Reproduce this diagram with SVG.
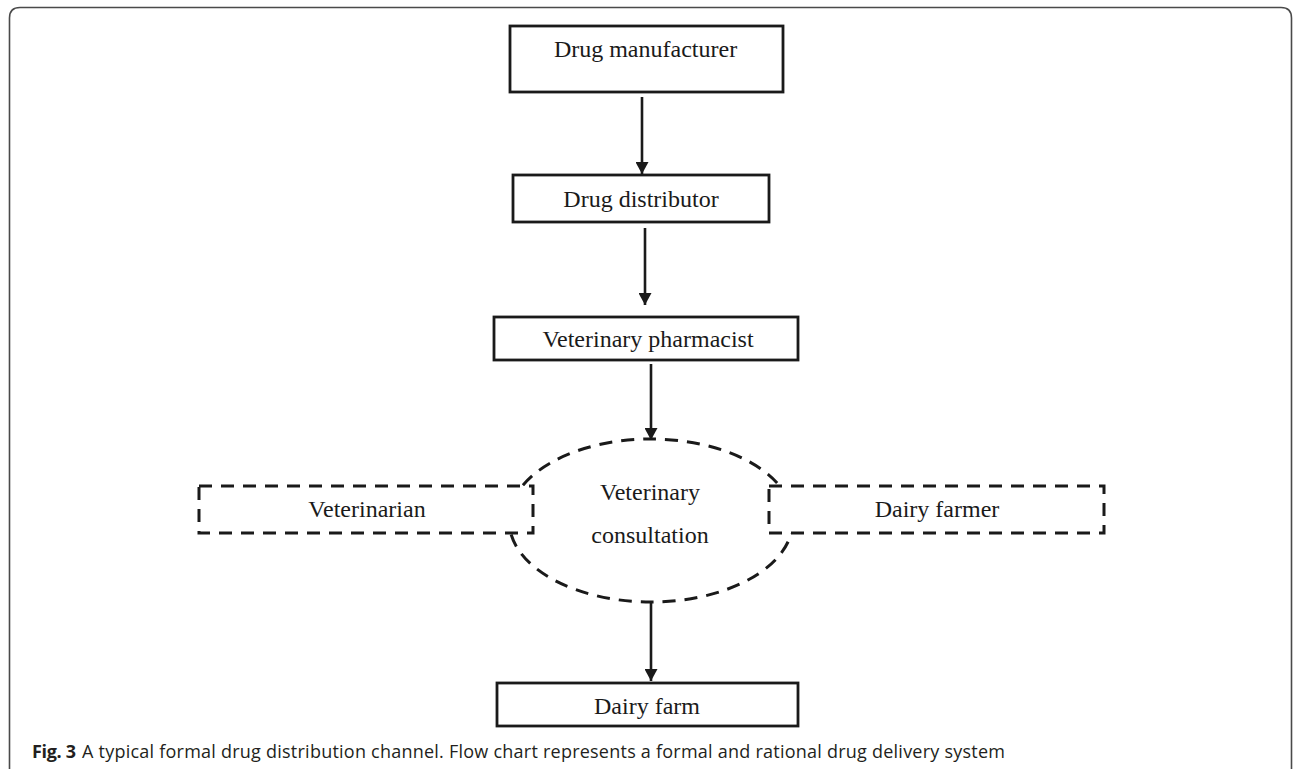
<svg xmlns="http://www.w3.org/2000/svg" width="1293" height="769" viewBox="0 0 1293 769">
<style>
.node{fill:#fff;stroke:#1a1a1a;stroke-width:2.8}
.dash{fill:#fff;stroke:#1a1a1a;stroke-width:3;stroke-dasharray:13 9}
.lbl{font-family:"Liberation Serif","Times New Roman",serif;font-size:24px;fill:#1a1a1a;text-anchor:middle}
.conn{stroke:#1a1a1a;stroke-width:2.6;fill:none}
.cap{font-family:"Open Sans","Noto Sans",sans-serif;font-size:18px;fill:#231f20}
</style>
<defs>
<marker id="ah" viewBox="0 0 12 13" refX="12" refY="6.5" markerWidth="12" markerHeight="13" markerUnits="userSpaceOnUse" orient="auto">
<path d="M0,0 L12,6.5 L0,13 Z" fill="#1a1a1a"/>
</marker>
</defs>
<rect width="1293" height="769" fill="#fff"/>
<path d="M9.5,769 V18 Q9.5,7.5 20,7.5 H1281 Q1291.5,7.5 1291.5,18 V769" fill="none" stroke="#4a4a4a" stroke-width="1.6"/>

<g id="node-consultation">
<ellipse cx="651" cy="520.5" rx="142" ry="81.5" class="dash"/>
<text class="lbl" x="650" y="500">Veterinary</text>
<text class="lbl" x="650" y="543">consultation</text>
</g>
<g id="node-veterinarian">
<rect x="199" y="486" width="334" height="47" class="dash"/>
<text class="lbl" x="367" y="517">Veterinarian</text>
</g>
<g id="node-dairy-farmer">
<rect x="769" y="486" width="335" height="47" class="dash"/>
<text class="lbl" x="937" y="517">Dairy farmer</text>
</g>

<g id="connectors">
<line class="conn" x1="642" y1="97" x2="642" y2="174" marker-end="url(#ah)"/>
<line class="conn" x1="645" y1="228" x2="645" y2="305" marker-end="url(#ah)"/>
<line class="conn" x1="651" y1="364" x2="651" y2="440" marker-end="url(#ah)"/>
<line class="conn" x1="651" y1="603" x2="651" y2="681" marker-end="url(#ah)"/>
</g>

<g id="node-manufacturer">
<rect x="510" y="26" width="273" height="66" class="node"/>
<text class="lbl" x="645.5" y="57">Drug manufacturer</text>
</g>
<g id="node-distributor">
<rect x="513" y="175" width="256" height="47" class="node"/>
<text class="lbl" x="641" y="207">Drug distributor</text>
</g>
<g id="node-pharmacist">
<rect x="494" y="317" width="304" height="43" class="node"/>
<text class="lbl" x="648" y="347">Veterinary pharmacist</text>
</g>
<g id="node-dairy-farm">
<rect x="497" y="683" width="301" height="43" class="node"/>
<text class="lbl" x="647" y="714">Dairy farm</text>
</g>

<g id="caption">
<text class="cap" x="32" y="758" font-weight="bold" textLength="44">Fig. 3</text>
<text class="cap" x="82" y="758" textLength="923">A typical formal drug distribution channel. Flow chart represents a formal and rational drug delivery system</text>
</g>
</svg>
